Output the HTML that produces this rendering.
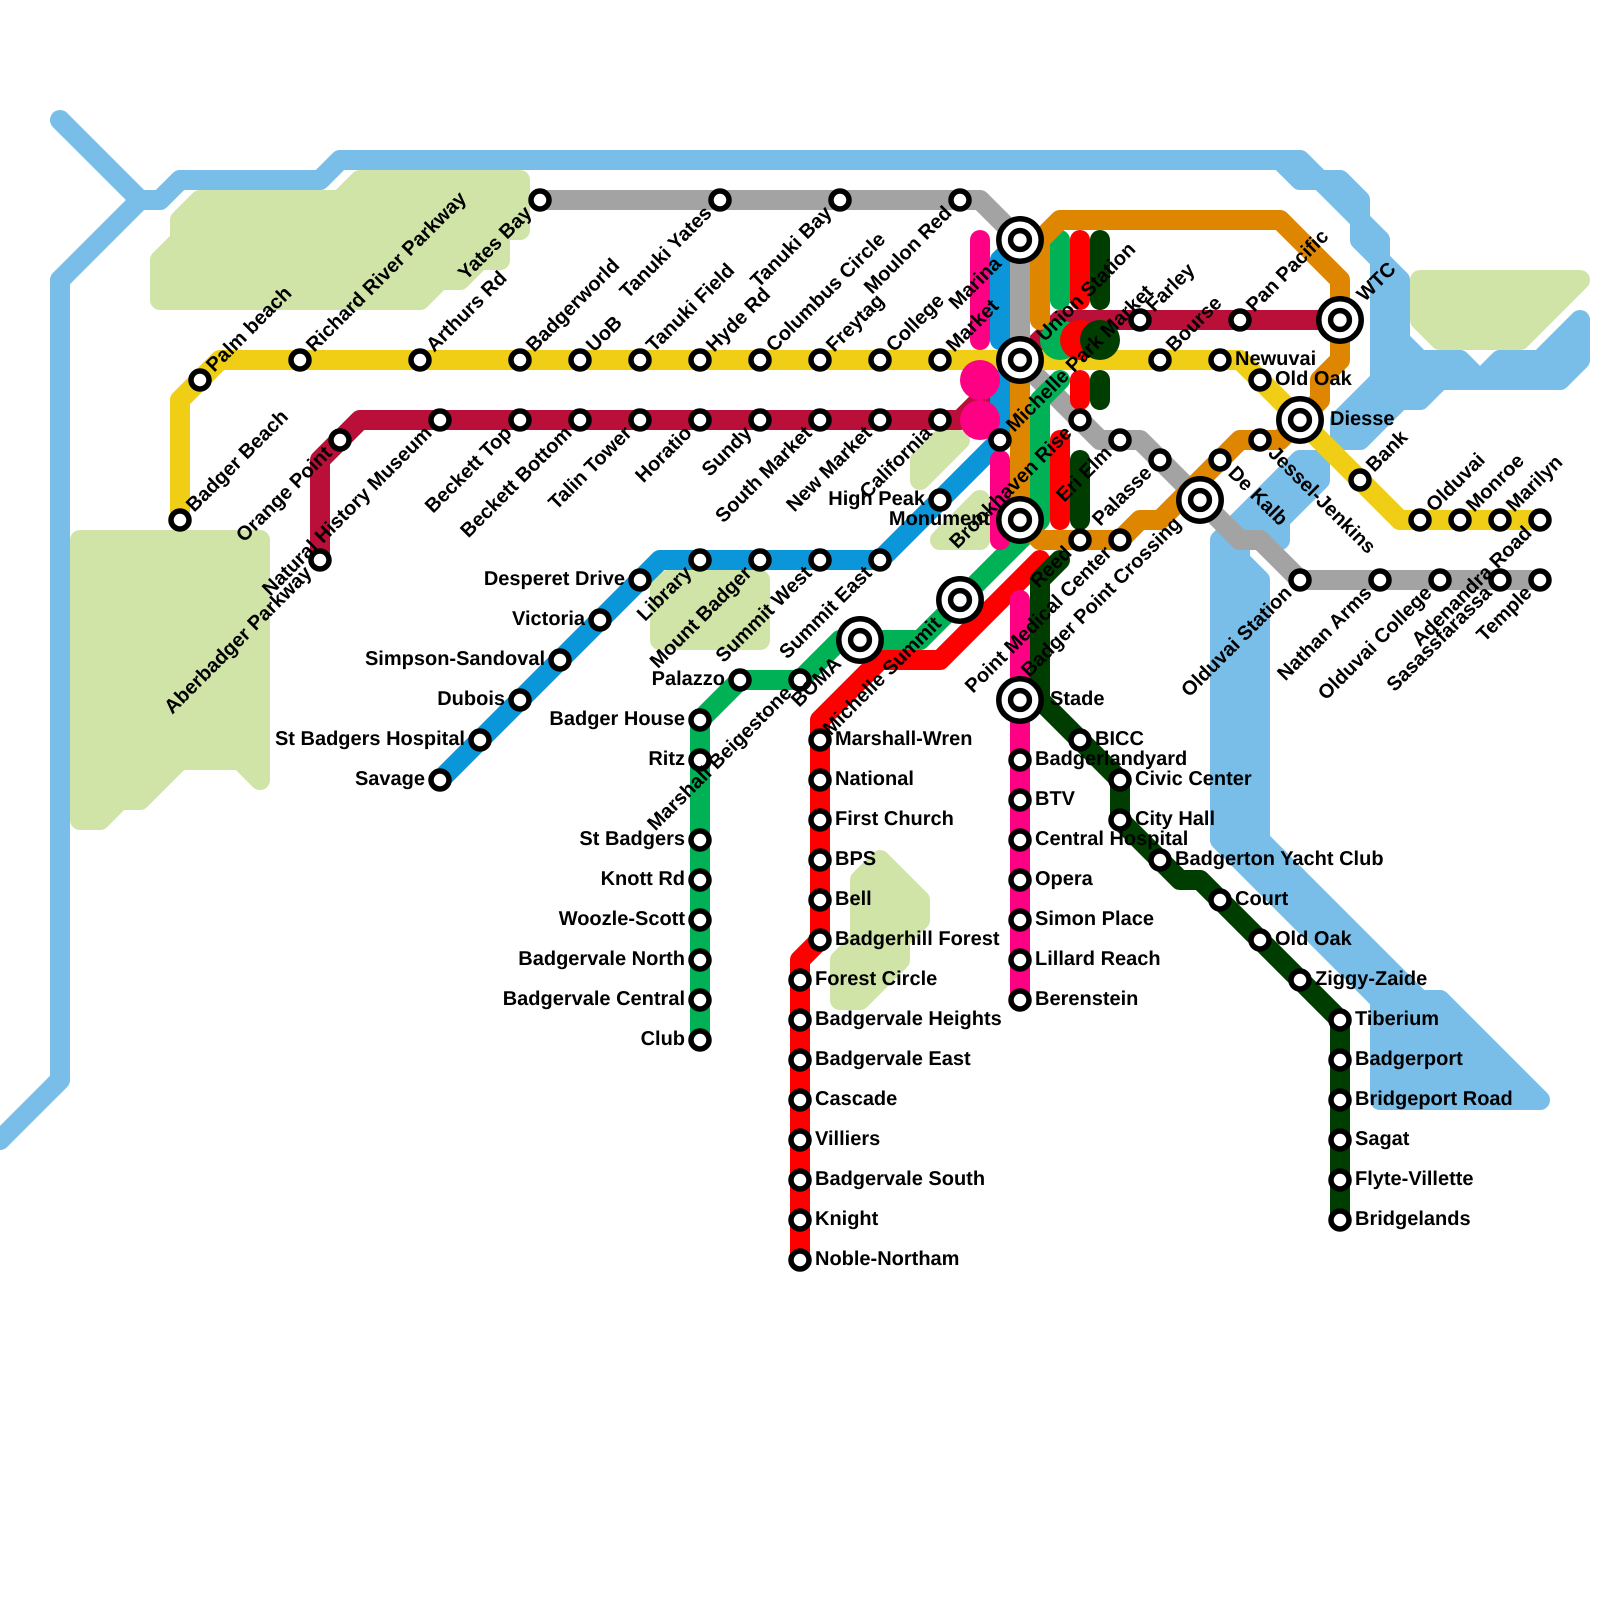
<!DOCTYPE html>
<html><head><meta charset="utf-8"><style>
html,body{margin:0;padding:0;background:#fff}
svg{display:block}
text{font-family:"Liberation Sans",sans-serif;font-weight:bold;font-size:20px;fill:#000;text-rendering:geometricPrecision}
.l{fill:none;stroke-width:20;stroke-linecap:round;stroke-linejoin:round}
.e{text-anchor:end}
</style></head><body>
<svg width="1600" height="1600" viewBox="0 0 1600 1600" xmlns="http://www.w3.org/2000/svg">
<rect width="1600" height="1600" fill="#fff"/>
<g fill="#d0e4a8" stroke="#d0e4a8" stroke-width="20" stroke-linejoin="round">
<polygon points="520,180 520,230 500,230 500,260 480,260 460,280 440,280 420,300 160,300 160,260 180,240 180,220 200,200 340,200 360,180"/>
<polygon points="80,540 260,540 260,780 240,760 180,760 140,800 120,800 100,820 80,820"/>
<polygon points="660,588 668,580 760,580 760,640 660,640"/>
<polygon points="860,880 880,860 920,900 920,920 900,940 900,960 860,1000 840,1000 840,960 860,940"/>
<polygon points="920,460 940,440 960,440 920,480"/>
<polygon points="980,500 980,540 940,540"/>
<polygon points="1420,280 1580,280 1520,340 1440,340 1420,320"/>
</g>
<g fill="#79bde9" stroke="#79bde9" stroke-width="20" stroke-linejoin="round">
<polygon points="1280,160 1300,160 1320,180 1340,180 1360,200 1360,220 1380,240 1380,260 1400,280 1400,340 1420,360 1460,360 1480,380 1500,360 1540,360 1580,320 1580,360 1560,380 1440,380 1420,400 1400,400 1360,440 1340,440 1340,420 1380,380 1380,260 1360,240 1360,220 1320,180 1300,180"/>
<polygon points="1220,540 1300,460 1320,460 1320,480 1280,520 1280,540 1240,540 1240,560 1260,580 1260,840 1420,1000 1440,1000 1540,1100 1380,1100 1380,1000 1220,840"/>
</g>
<g class="l" stroke="#79bde9">
<path class="l" d="M60 120L140 200L60 280V1080L0 1140"/>
<path class="l" d="M140 200H160L180 180H320L340 160H1290"/>
</g>
<g>
<path class="l" stroke="#ba0f38" d="M320 560V460L360 420H960L1060 320H1340"/>
<path class="l" stroke="#0a96d8" d="M440 780L660 560H880L1000 440V380M1000 340V260L1020 240"/>
<path class="l" stroke="#a3a3a3" d="M540 200H980L1020 240V360L1100 440H1140L1220 520L1240 540H1260L1300 580H1540"/>
<path class="l" stroke="#f0ce15" d="M180 520V400L220 360H1240L1400 520H1540"/>
<path class="l" stroke="#00b156" d="M700 1040V720L740 680H800L840 640H920L1040 520V400L1060 380"/>
<path class="l" stroke="#00b156" d="M1040 260L1060 240V300"/>
<path class="l" stroke="#ff0000" d="M800 1260V960L820 940V720L880 660H940L1040 560"/>
<path class="l" stroke="#ff0000" d="M1080 240V300M1080 380V400M1060 440V520"/>
<path class="l" stroke="#003d00" d="M1340 1220V1020L1200 880H1180L1120 820V780L1040 700V580L1060 560"/>
<path class="l" stroke="#003d00" d="M1100 240V300M1100 380V400M1080 460V520"/>
<path class="l" stroke="#ff0084" d="M1020 1000V600M980 240V340M1000 460V540"/>
<circle cx="980" cy="380" r="20" fill="#ff0084"/>
<circle cx="980" cy="420" r="20" fill="#ff0084"/>
<path class="l" stroke="#df8600" d="M1040 320V240L1060 220H1280L1340 280V360L1320 380V400L1280 440H1240L1160 520H1140L1120 540H1040L1020 520V380"/>
<circle cx="1060" cy="340" r="20" fill="#00b156"/>
<circle cx="1080" cy="340" r="20" fill="#ff0000"/>
<circle cx="1100" cy="340" r="20" fill="#003d00"/>
</g>
<g fill="#fff" stroke="#000" stroke-width="5.5">
<circle cx="180" cy="520" r="9"/><circle cx="200" cy="380" r="9"/><circle cx="300" cy="360" r="9"/><circle cx="420" cy="360" r="9"/><circle cx="520" cy="360" r="9"/><circle cx="580" cy="360" r="9"/><circle cx="640" cy="360" r="9"/><circle cx="700" cy="360" r="9"/><circle cx="760" cy="360" r="9"/><circle cx="820" cy="360" r="9"/><circle cx="880" cy="360" r="9"/><circle cx="940" cy="360" r="9"/><circle cx="1160" cy="360" r="9"/><circle cx="1220" cy="360" r="9"/><circle cx="1260" cy="380" r="9"/><circle cx="1360" cy="480" r="9"/><circle cx="1420" cy="520" r="9"/><circle cx="1460" cy="520" r="9"/><circle cx="1500" cy="520" r="9"/><circle cx="1540" cy="520" r="9"/>
<circle cx="320" cy="560" r="9"/><circle cx="340" cy="440" r="9"/><circle cx="440" cy="420" r="9"/><circle cx="520" cy="420" r="9"/><circle cx="580" cy="420" r="9"/><circle cx="640" cy="420" r="9"/><circle cx="700" cy="420" r="9"/><circle cx="760" cy="420" r="9"/><circle cx="820" cy="420" r="9"/><circle cx="880" cy="420" r="9"/><circle cx="940" cy="420" r="9"/><circle cx="1140" cy="320" r="9"/><circle cx="1240" cy="320" r="9"/>
<circle cx="440" cy="780" r="9"/><circle cx="480" cy="740" r="9"/><circle cx="520" cy="700" r="9"/><circle cx="560" cy="660" r="9"/><circle cx="600" cy="620" r="9"/><circle cx="640" cy="580" r="9"/><circle cx="700" cy="560" r="9"/><circle cx="760" cy="560" r="9"/><circle cx="820" cy="560" r="9"/><circle cx="880" cy="560" r="9"/><circle cx="940" cy="500" r="9"/><circle cx="1000" cy="440" r="9"/>
<circle cx="540" cy="200" r="9"/><circle cx="720" cy="200" r="9"/><circle cx="840" cy="200" r="9"/><circle cx="960" cy="200" r="9"/><circle cx="1080" cy="420" r="9"/><circle cx="1120" cy="440" r="9"/><circle cx="1160" cy="460" r="9"/><circle cx="1300" cy="580" r="9"/><circle cx="1380" cy="580" r="9"/><circle cx="1440" cy="580" r="9"/><circle cx="1500" cy="580" r="9"/><circle cx="1540" cy="580" r="9"/>
<circle cx="1080" cy="540" r="9"/><circle cx="1120" cy="540" r="9"/><circle cx="1220" cy="460" r="9"/><circle cx="1260" cy="440" r="9"/>
<circle cx="740" cy="680" r="9"/><circle cx="800" cy="680" r="9"/><circle cx="700" cy="720" r="9"/><circle cx="700" cy="760" r="9"/><circle cx="700" cy="840" r="9"/><circle cx="700" cy="880" r="9"/><circle cx="700" cy="920" r="9"/><circle cx="700" cy="960" r="9"/><circle cx="700" cy="1000" r="9"/><circle cx="700" cy="1040" r="9"/>
<circle cx="820" cy="740" r="9"/><circle cx="820" cy="780" r="9"/><circle cx="820" cy="820" r="9"/><circle cx="820" cy="860" r="9"/><circle cx="820" cy="900" r="9"/><circle cx="820" cy="940" r="9"/><circle cx="800" cy="980" r="9"/><circle cx="800" cy="1020" r="9"/><circle cx="800" cy="1060" r="9"/><circle cx="800" cy="1100" r="9"/><circle cx="800" cy="1140" r="9"/><circle cx="800" cy="1180" r="9"/><circle cx="800" cy="1220" r="9"/><circle cx="800" cy="1260" r="9"/>
<circle cx="1020" cy="760" r="9"/><circle cx="1020" cy="800" r="9"/><circle cx="1020" cy="840" r="9"/><circle cx="1020" cy="880" r="9"/><circle cx="1020" cy="920" r="9"/><circle cx="1020" cy="960" r="9"/><circle cx="1020" cy="1000" r="9"/>
<circle cx="1080" cy="740" r="9"/><circle cx="1120" cy="780" r="9"/><circle cx="1120" cy="820" r="9"/><circle cx="1160" cy="860" r="9"/><circle cx="1220" cy="900" r="9"/><circle cx="1260" cy="940" r="9"/><circle cx="1300" cy="980" r="9"/><circle cx="1340" cy="1020" r="9"/><circle cx="1340" cy="1060" r="9"/><circle cx="1340" cy="1100" r="9"/><circle cx="1340" cy="1140" r="9"/><circle cx="1340" cy="1180" r="9"/><circle cx="1340" cy="1220" r="9"/>
<circle cx="1020" cy="240" r="21.2"/><circle cx="1020" cy="240" r="9.4"/>
<circle cx="1020" cy="360" r="21.2"/><circle cx="1020" cy="360" r="9.4"/>
<circle cx="1020" cy="520" r="21.2"/><circle cx="1020" cy="520" r="9.4"/>
<circle cx="960" cy="600" r="21.2"/><circle cx="960" cy="600" r="9.4"/>
<circle cx="860" cy="640" r="21.2"/><circle cx="860" cy="640" r="9.4"/>
<circle cx="1020" cy="700" r="21.2"/><circle cx="1020" cy="700" r="9.4"/>
<circle cx="1200" cy="500" r="21.2"/><circle cx="1200" cy="500" r="9.4"/>
<circle cx="1300" cy="420" r="21.2"/><circle cx="1300" cy="420" r="9.4"/>
<circle cx="1340" cy="320" r="21.2"/><circle cx="1340" cy="320" r="9.4"/>
</g>
<g>
<text x="215" y="385" transform="rotate(-45 200 380)">Palm beach</text>
<text x="195" y="525" transform="rotate(-45 180 520)">Badger Beach</text>
<text x="315" y="365" transform="rotate(-45 300 360)">Richard River Parkway</text>
<text x="435" y="365" transform="rotate(-45 420 360)">Arthurs Rd</text>
<text x="535" y="365" transform="rotate(-45 520 360)">Badgerworld</text>
<text x="595" y="365" transform="rotate(-45 580 360)">UoB</text>
<text x="655" y="365" transform="rotate(-45 640 360)">Tanuki Field</text>
<text x="715" y="365" transform="rotate(-45 700 360)">Hyde Rd</text>
<text x="775" y="365" transform="rotate(-45 760 360)">Columbus Circle</text>
<text x="835" y="365" transform="rotate(-45 820 360)">Freytag</text>
<text x="895" y="365" transform="rotate(-45 880 360)">College</text>
<text x="955" y="365" transform="rotate(-45 940 360)">Market</text>
<text x="1050" y="365" transform="rotate(-45 1020 360)">Union Station</text>
<text x="1175" y="365" transform="rotate(-45 1160 360)">Bourse</text>
<text x="1155" y="325" transform="rotate(-45 1140 320)">Farley</text>
<text x="1255" y="325" transform="rotate(-45 1240 320)">Pan Pacific</text>
<text x="1370" y="325" transform="rotate(-45 1340 320)">WTC</text>
<text x="1015" y="445" transform="rotate(-45 1000 440)">Michelle Park Market</text>
<text x="1375" y="485" transform="rotate(-45 1360 480)">Bank</text>
<text x="1435" y="525" transform="rotate(-45 1420 520)">Olduvai</text>
<text x="1475" y="525" transform="rotate(-45 1460 520)">Monroe</text>
<text x="1515" y="525" transform="rotate(-45 1500 520)">Marilyn</text>
<text class="e" x="525" y="205" transform="rotate(-45 540 200)">Yates Bay</text>
<text class="e" x="705" y="205" transform="rotate(-45 720 200)">Tanuki Yates</text>
<text class="e" x="825" y="205" transform="rotate(-45 840 200)">Tanuki Bay</text>
<text class="e" x="945" y="205" transform="rotate(-45 960 200)">Moulon Red</text>
<text class="e" x="990" y="245" transform="rotate(-45 1020 240)">Marina</text>
<text class="e" x="325" y="445" transform="rotate(-45 340 440)">Orange Point</text>
<text class="e" x="425" y="425" transform="rotate(-45 440 420)">Natural History Museum</text>
<text class="e" x="305" y="565" transform="rotate(-45 320 560)">Aberbadger Parkway</text>
<text class="e" x="505" y="425" transform="rotate(-45 520 420)">Beckett Top</text>
<text class="e" x="565" y="425" transform="rotate(-45 580 420)">Beckett Bottom</text>
<text class="e" x="625" y="425" transform="rotate(-45 640 420)">Talin Tower</text>
<text class="e" x="685" y="425" transform="rotate(-45 700 420)">Horatio</text>
<text class="e" x="745" y="425" transform="rotate(-45 760 420)">Sundy</text>
<text class="e" x="805" y="425" transform="rotate(-45 820 420)">South Market</text>
<text class="e" x="865" y="425" transform="rotate(-45 880 420)">New Market</text>
<text class="e" x="925" y="425" transform="rotate(-45 940 420)">California</text>
<text class="e" x="685" y="565" transform="rotate(-45 700 560)">Library</text>
<text class="e" x="745" y="565" transform="rotate(-45 760 560)">Mount Badger</text>
<text class="e" x="805" y="565" transform="rotate(-45 820 560)">Summit West</text>
<text class="e" x="865" y="565" transform="rotate(-45 880 560)">Summit East</text>
<text class="e" x="785" y="685" transform="rotate(-45 800 680)">Marshall Beigestone</text>
<text class="e" x="830" y="645" transform="rotate(-45 860 640)">BOMA</text>
<text class="e" x="930" y="605" transform="rotate(-45 960 600)">Michelle Summit</text>
<text class="e" x="1065" y="425" transform="rotate(-45 1080 420)">Brookhaven Rise</text>
<text class="e" x="1105" y="445" transform="rotate(-45 1120 440)">Eri Elm</text>
<text class="e" x="1145" y="465" transform="rotate(-45 1160 460)">Palasse</text>
<text class="e" x="1065" y="545" transform="rotate(-45 1080 540)">Reed</text>
<text class="e" x="1105" y="545" transform="rotate(-45 1120 540)">Point Medical Center</text>
<text class="e" x="1170" y="505" transform="rotate(-45 1200 500)">Badger Point Crossing</text>
<text class="e" x="1285" y="585" transform="rotate(-45 1300 580)">Olduvai Station</text>
<text class="e" x="1365" y="585" transform="rotate(-45 1380 580)">Nathan Arms</text>
<text class="e" x="1425" y="585" transform="rotate(-45 1440 580)">Olduvai College</text>
<text class="e" x="1485" y="585" transform="rotate(-45 1500 580)">Sasassfarassa</text>
<text class="e" x="1525" y="585" transform="rotate(-45 1540 580)">Temple</text>
<text class="e" x="1525" y="525" transform="rotate(-45 1540 520)">Adenandra Road</text>
<text x="1235" y="465" transform="rotate(45 1220 460)">De Kalb</text>
<text x="1275" y="445" transform="rotate(45 1260 440)">Jessel-Jenkins</text>
<text x="1235" y="365">Newuvai</text>
<text x="1275" y="385">Old Oak</text>
<text x="1330" y="425">Diesse</text>
<text x="1050" y="705">Stade</text>
<text class="e" x="925" y="505">High Peak</text>
<text class="e" x="990" y="525">Monument</text>
<text class="e" x="625" y="585">Desperet Drive</text>
<text class="e" x="585" y="625">Victoria</text>
<text class="e" x="545" y="665">Simpson-Sandoval</text>
<text class="e" x="505" y="705">Dubois</text>
<text class="e" x="465" y="745">St Badgers Hospital</text>
<text class="e" x="425" y="785">Savage</text>
<text class="e" x="725" y="685">Palazzo</text>
<text class="e" x="685" y="725">Badger House</text>
<text class="e" x="685" y="765">Ritz</text>
<text class="e" x="685" y="845">St Badgers</text>
<text class="e" x="685" y="885">Knott Rd</text>
<text class="e" x="685" y="925">Woozle-Scott</text>
<text class="e" x="685" y="965">Badgervale North</text>
<text class="e" x="685" y="1005">Badgervale Central</text>
<text class="e" x="685" y="1045">Club</text>
<text x="835" y="745">Marshall-Wren</text>
<text x="835" y="785">National</text>
<text x="835" y="825">First Church</text>
<text x="835" y="865">BPS</text>
<text x="835" y="905">Bell</text>
<text x="835" y="945">Badgerhill Forest</text>
<text x="815" y="985">Forest Circle</text>
<text x="815" y="1025">Badgervale Heights</text>
<text x="815" y="1065">Badgervale East</text>
<text x="815" y="1105">Cascade</text>
<text x="815" y="1145">Villiers</text>
<text x="815" y="1185">Badgervale South</text>
<text x="815" y="1225">Knight</text>
<text x="815" y="1265">Noble-Northam</text>
<text x="1035" y="765">Badgerlandyard</text>
<text x="1035" y="805">BTV</text>
<text x="1035" y="845">Central Hospital</text>
<text x="1035" y="885">Opera</text>
<text x="1035" y="925">Simon Place</text>
<text x="1035" y="965">Lillard Reach</text>
<text x="1035" y="1005">Berenstein</text>
<text x="1095" y="745">BICC</text>
<text x="1135" y="785">Civic Center</text>
<text x="1135" y="825">City Hall</text>
<text x="1175" y="865">Badgerton Yacht Club</text>
<text x="1235" y="905">Court</text>
<text x="1275" y="945">Old Oak</text>
<text x="1315" y="985">Ziggy-Zaide</text>
<text x="1355" y="1025">Tiberium</text>
<text x="1355" y="1065">Badgerport</text>
<text x="1355" y="1105">Bridgeport Road</text>
<text x="1355" y="1145">Sagat</text>
<text x="1355" y="1185">Flyte-Villette</text>
<text x="1355" y="1225">Bridgelands</text>
</g>
</svg>
</body></html>
